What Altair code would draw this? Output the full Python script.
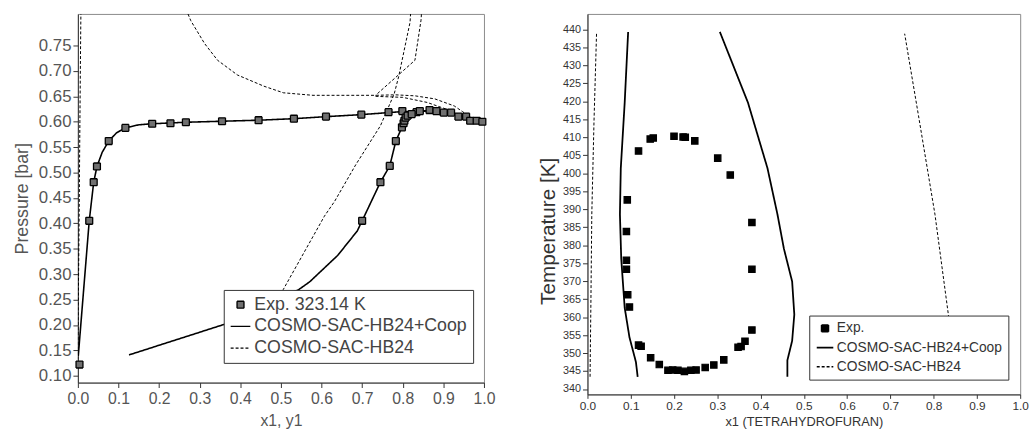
import altair as alt
import pandas as pd

FONT = "Liberation Sans"

# ---------------- Left panel: P-x-y, THF(1) + water(2) at 323.14 K ----------------
exp_x = [0.004, 0.028, 0.039, 0.047, 0.076, 0.117, 0.183, 0.228, 0.266, 0.355, 0.445, 0.532,
         0.611, 0.698, 0.765, 0.799, 0.834, 0.842, 0.866, 0.883, 0.901, 0.919, 0.937, 0.956,
         0.966, 0.982, 0.996,
         0.700, 0.745, 0.768, 0.783, 0.798, 0.802, 0.804, 0.807, 0.812, 0.822]
exp_p = [0.122, 0.405, 0.481, 0.512, 0.562, 0.588, 0.596, 0.597, 0.599, 0.601, 0.603, 0.606,
         0.610, 0.614, 0.619, 0.621, 0.619, 0.621, 0.623, 0.621, 0.618, 0.618, 0.610, 0.610,
         0.602, 0.602, 0.600,
         0.405, 0.481, 0.513, 0.562, 0.589, 0.597, 0.602, 0.608, 0.612, 0.615]

coop_bub_x = [0.001, 0.028, 0.039, 0.047, 0.060, 0.076, 0.095, 0.117, 0.150, 0.183, 0.266, 0.355,
              0.445, 0.532, 0.611, 0.698, 0.765, 0.800, 0.840, 0.866, 0.900, 0.940, 0.970, 1.000]
coop_bub_p = [0.139, 0.405, 0.481, 0.512, 0.540, 0.562, 0.578, 0.588, 0.594, 0.596, 0.599, 0.601,
              0.603, 0.606, 0.610, 0.614, 0.618, 0.620, 0.621, 0.622, 0.619, 0.612, 0.605, 0.600]
coop_dew_x = [0.126, 0.360, 0.520, 0.543, 0.571, 0.640, 0.688, 0.700, 0.745, 0.768, 0.783, 0.798,
              0.804, 0.812, 0.830, 0.866]
coop_dew_p = [0.141, 0.201, 0.262, 0.269, 0.285, 0.337, 0.385, 0.405, 0.481, 0.513, 0.562, 0.589,
              0.602, 0.612, 0.618, 0.622]

hb_a_x = [0.000, 0.001, 0.003, 0.005, 0.007, 0.008]
hb_a_p = [0.122, 0.240, 0.400, 0.600, 0.780, 0.850]
hb_b_x = [0.262, 0.278, 0.312, 0.344, 0.393, 0.458, 0.506, 0.579, 0.660, 0.733, 0.781, 0.830,
          0.879, 0.927, 0.947, 0.970, 1.000]
hb_b_p = [0.830, 0.799, 0.754, 0.721, 0.692, 0.670, 0.657, 0.652, 0.652, 0.652, 0.653, 0.651,
          0.645, 0.631, 0.620, 0.607, 0.600]
hb_c_x = [0.850, 0.845, 0.830, 0.733]
hb_c_p = [0.860, 0.800, 0.721, 0.652]
hb_d_x = [0.733, 0.800, 0.860, 0.910, 0.950, 0.975, 1.000]
hb_d_p = [0.650, 0.648, 0.638, 0.624, 0.610, 0.603, 0.600]
hb_e_x = [0.420, 0.506, 0.607, 0.632, 0.684, 0.745, 0.779, 0.790, 0.818, 0.822]
hb_e_p = [0.150, 0.270, 0.414, 0.443, 0.515, 0.592, 0.655, 0.689, 0.796, 0.850]

# ---------------- Right panel: T-x LLE, THF(1) + water(2) ----------------
r_exp_x = [0.092, 0.118, 0.145, 0.152, 0.200, 0.221, 0.226, 0.248, 0.301, 0.330, 0.380, 0.090,
           0.090, 0.090, 0.380, 0.093, 0.097, 0.380, 0.364, 0.355, 0.348, 0.118, 0.124, 0.146,
           0.166, 0.186, 0.197, 0.209, 0.224, 0.239, 0.251, 0.272, 0.292, 0.315]
r_exp_t = [392.6, 406.2, 409.5, 409.8, 410.3, 410.1, 410.0, 409.0, 404.2, 399.5, 386.3, 383.8,
           375.8, 373.3, 373.3, 366.2, 362.8, 356.4, 353.3, 351.8, 351.6, 352.2, 351.9, 348.7,
           346.8, 345.2, 345.3, 345.2, 344.9, 345.2, 345.3, 346.0, 346.7, 348.1]

r_coop_l_x = [0.116, 0.112, 0.097, 0.086, 0.078, 0.075, 0.077, 0.086, 0.094]
r_coop_l_t = [343.4, 347.5, 354.4, 362.6, 376.3, 388.6, 401.4, 419.6, 439.3]
r_coop_r_x = [0.462, 0.462, 0.473, 0.478, 0.473, 0.454, 0.439, 0.416, 0.371, 0.306]
r_coop_r_t = [343.4, 348.0, 353.4, 360.7, 369.9, 379.0, 388.6, 401.4, 419.6, 439.3]
r_hb_l_x = [0.006, 0.008, 0.010, 0.015, 0.021]
r_hb_l_t = [343.4, 365.0, 388.6, 414.0, 439.0]
r_hb_r_x = [0.850, 0.834, 0.803, 0.765, 0.733]
r_hb_r_t = [343.4, 360.7, 388.6, 416.0, 438.8]

L_NAMES = ["Exp. 323.14 K", "COSMO-SAC-HB24+Coop", "COSMO-SAC-HB24"]
R_NAMES = ["Exp.", "COSMO-SAC-HB24+Coop", "COSMO-SAC-HB24"]


def lines_df(series, segments, xname, yname, sname):
    rows = []
    for seg, (xs, ys) in segments.items():
        for i, (a, b) in enumerate(zip(xs, ys)):
            rows.append({sname: series, "seg": seg, "order": i, xname: a, yname: b})
    return pd.DataFrame(rows)


# ----- left data frames -----
l_exp = pd.DataFrame({"x": exp_x, "p": exp_p, "series": L_NAMES[0]})
l_coop = lines_df(L_NAMES[1], {"bub": (coop_bub_x, coop_bub_p), "dew": (coop_dew_x, coop_dew_p)},
                  "x", "p", "series")
l_hb = lines_df(L_NAMES[2], {"a": (hb_a_x, hb_a_p), "b": (hb_b_x, hb_b_p), "c": (hb_c_x, hb_c_p),
                             "d": (hb_d_x, hb_d_p), "e": (hb_e_x, hb_e_p)}, "x", "p", "series")

# ----- right data frames -----
r_exp = pd.DataFrame({"x": r_exp_x, "t": r_exp_t, "series2": R_NAMES[0]})
r_coop = lines_df(R_NAMES[1], {"l": (r_coop_l_x, r_coop_l_t), "r": (r_coop_r_x, r_coop_r_t)},
                  "x", "t", "series2")
r_hb = lines_df(R_NAMES[2], {"l": (r_hb_l_x, r_hb_l_t), "r": (r_hb_r_x, r_hb_r_t)},
                "x", "t", "series2")

line_sym_L = "M-2.85,0H2.85"
line_sym_R = "M-2.4,0H2.4"

# ================= LEFT CHART =================
lx = alt.X("x:Q", scale=alt.Scale(domain=[0, 1], nice=False),
           axis=alt.Axis(values=[i / 10 for i in range(11)], format=".1f", title="x1, y1",
                         labelFontSize=16, titleFontSize=16, labelFont=FONT, titleFont=FONT,
                         labelColor="#555", titleColor="#555", titleFontWeight="normal",
                         tickColor="#333", domainColor="#333", tickSize=5, labelPadding=3,
                         titlePadding=7, labelFlush=False, grid=False))
ly = alt.Y("p:Q", scale=alt.Scale(domain=[0.0865, 0.8122], nice=False, zero=False),
           axis=alt.Axis(values=[round(0.10 + 0.05 * i, 2) for i in range(14)], format=".2f",
                         title="Pressure [bar]", labelFontSize=17, titleFontSize=18,
                         labelFont=FONT, titleFont=FONT, labelColor="#555", titleColor="#555",
                         titleFontWeight="normal", tickColor="#333", domainColor="#333",
                         tickSize=5, labelPadding=2, titlePadding=7, grid=False))

leg_L = alt.Legend(title=None, orient="none", legendX=148, legendY=280, fillColor="white",
                   strokeColor="#333", padding=6, labelFontSize=18, labelFont=FONT,
                   labelColor="#444", symbolSize=49, symbolStrokeWidth=1.4, rowPadding=4,
                   labelOffset=5, symbolOffset=2, labelLimit=400)
shape_L = alt.Shape("series:N", scale=alt.Scale(domain=L_NAMES, range=["square", line_sym_L, line_sym_L]),
                    legend=leg_L)
dash_L = alt.StrokeDash("series:N", scale=alt.Scale(domain=L_NAMES, range=[[1, 0], [1, 0], [3, 2]]),
                        legend=leg_L)
stroke_L = alt.Stroke("series:N", scale=alt.Scale(domain=L_NAMES, range=["black", "black", "black"]),
                      legend=leg_L)
fill_L = alt.Fill("series:N", scale=alt.Scale(domain=L_NAMES, range=["#707070", "#707070", "#707070"]),
                  legend=leg_L)

left_coop = alt.Chart(l_coop).mark_line(strokeWidth=1.6, clip=True).encode(
    x=lx, y=ly, detail="seg:N", order="order:Q", strokeDash=dash_L, stroke=stroke_L)
left_hb = alt.Chart(l_hb).mark_line(strokeWidth=1.0, clip=True).encode(
    x=lx, y=ly, detail="seg:N", order="order:Q", strokeDash=dash_L, stroke=stroke_L)
left_pts = alt.Chart(l_exp).mark_point(filled=True, strokeWidth=1.3, size=49, opacity=1).encode(
    x=lx, y=ly, shape=shape_L, strokeDash=dash_L, stroke=stroke_L, fill=fill_L)

left = alt.layer(left_hb, left_coop, left_pts).properties(width=412, height=374)

# ================= RIGHT CHART =================
rx = alt.X("x:Q", scale=alt.Scale(domain=[0, 1], nice=False),
           axis=alt.Axis(values=[i / 10 for i in range(11)], format=".1f",
                         title="x1 (TETRAHYDROFURAN)", labelFontSize=12, titleFontSize=13,
                         labelFont=FONT, titleFont=FONT, labelColor="#333", titleColor="#333",
                         titleFontWeight="normal", tickColor="#333", domainColor="#333",
                         tickSize=4, labelPadding=2, titlePadding=5, labelFlush=False, grid=False))
ry = alt.Y("t:Q", scale=alt.Scale(domain=[338.5, 444.3], nice=False, zero=False),
           axis=alt.Axis(values=list(range(340, 441, 5)), title="Temperature [K]",
                         labelFontSize=11, titleFontSize=21, labelFont=FONT, titleFont=FONT,
                         labelColor="#333", titleColor="#333", titleFontWeight="normal",
                         tickColor="#333", domainColor="#333", tickSize=5, labelPadding=2,
                         titlePadding=4, titleY=220, grid=False))

leg_R = alt.Legend(title=None, orient="none", legendX=225, legendY=306, fillColor="white",
                   strokeColor="#333", padding=6, labelFontSize=14, labelFont=FONT,
                   labelColor="#333", symbolSize=49, symbolStrokeWidth=1.6, rowPadding=5.5,
                   labelOffset=5, symbolOffset=3, labelLimit=400)
shape_R = alt.Shape("series2:N", scale=alt.Scale(domain=R_NAMES, range=["square", line_sym_R, line_sym_R]),
                    legend=leg_R)
dash_R = alt.StrokeDash("series2:N", scale=alt.Scale(domain=R_NAMES, range=[[1, 0], [1, 0], [3, 2]]),
                        legend=leg_R)
stroke_R = alt.Stroke("series2:N", scale=alt.Scale(domain=R_NAMES, range=["black", "black", "black"]),
                      legend=leg_R)
fill_R = alt.Fill("series2:N", scale=alt.Scale(domain=R_NAMES, range=["black", "black", "black"]),
                  legend=leg_R)

right_coop = alt.Chart(r_coop).mark_line(strokeWidth=1.8, clip=True).encode(
    x=rx, y=ry, detail="seg:N", order="order:Q", strokeDash=dash_R, stroke=stroke_R)
right_hb = alt.Chart(r_hb).mark_line(strokeWidth=1.0, clip=True).encode(
    x=rx, y=ry, detail="seg:N", order="order:Q", strokeDash=dash_R, stroke=stroke_R)
right_pts = alt.Chart(r_exp).mark_point(filled=True, strokeWidth=1.2, size=42, opacity=1).encode(
    x=rx, y=ry, shape=shape_R, strokeDash=dash_R, stroke=stroke_R, fill=fill_R)

right = alt.layer(right_hb, right_coop, right_pts).properties(width=439, height=386)

chart = alt.hconcat(left, right, spacing=42).resolve_scale(
    shape="independent", strokeDash="independent", stroke="independent",
    fill="independent").properties(
    padding={"left": 13, "top": 10, "right": 4, "bottom": 0},
    background="white"
).configure_view(stroke="#8a8a8a", strokeWidth=1)

chart.save("out.html", embed_options={"renderer": "svg", "actions": False})
